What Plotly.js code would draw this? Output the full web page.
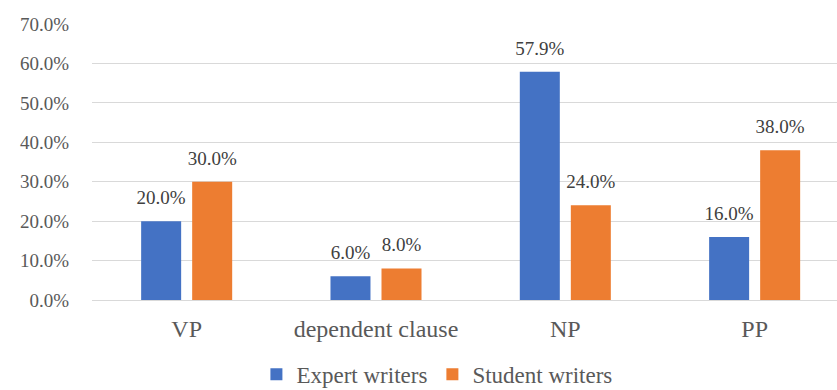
<!DOCTYPE html>
<html>
<head>
<meta charset="utf-8">
<script src="https://cdn.plot.ly/plotly-3.0.1.min.js"></script>
<style>html,body{margin:0;padding:0;background:#fff;}#chart{width:837px;height:390px;}</style>
</head>
<body>
<div id="chart"></div>
<script>
const categories = ["VP", "dependent clause", "NP", "PP"];
const expertWriters = [0.20, 0.06, 0.579, 0.16];
const studentWriters = [0.30, 0.08, 0.24, 0.38];
const seriesNames = ["Expert writers", "Student writers"];
const tickValues = [0, 0.1, 0.2, 0.3, 0.4, 0.5, 0.6, 0.7];

const SERIF = "Liberation Serif";
const colors = ["#4472C4", "#ED7D31"];
const seriesData = [expertWriters, studentWriters];

const traces = [];
seriesData.forEach((vals, i) => {
  traces.push({type: "bar", name: seriesNames[i], x: categories, y: vals,
    marker: {color: colors[i]}, offsetgroup: "g" + i, alignmentgroup: "a",
    hoverinfo: "none"});
});
seriesData.forEach((vals, i) => {
  traces.push({type: "scatter", mode: "markers+text", x: categories, y: vals,
    offsetgroup: "g" + i, alignmentgroup: "a", showlegend: false,
    marker: {size: 18, opacity: 0, color: colors[i]},
    text: vals.map(v => (v * 100).toFixed(1) + "%"), textposition: "top center",
    textfont: {family: SERIF, size: 19, color: "#404040"}, cliponaxis: false, hoverinfo: "none"});
});

const layout = {
  width: 837, height: 390,
  margin: {l: 92, r: 0, t: 24, b: 90},
  paper_bgcolor: "#ffffff", plot_bgcolor: "#ffffff",
  barmode: "group", bargap: 0.461, bargroupgap: 0.216,
  scattermode: "group", scattergap: 0.461,
  font: {family: SERIF, size: 19, color: "#595959"},
  showlegend: true,
  legend: {orientation: "h", xref: "container", x: 0.522, xanchor: "center", yref: "container", y: 0.04, yanchor: "middle",
           font: {family: SERIF, size: 23, color: "#595959"}, itemwidth: 30, traceorder: "normal"},
  xaxis: {type: "category", range: [-0.5, 3.435], showgrid: false, zeroline: false, showline: false,
          ticks: "", ticklabelstandoff: 12, tickfont: {family: SERIF, size: 24, color: "#595959"}},
  yaxis: {range: [0, 0.7], tickvals: tickValues, tickformat: ".1%",
          showgrid: true, gridcolor: "#d9d9d9", gridwidth: 1.3,
          zeroline: true, zerolinecolor: "#d9d9d9", zerolinewidth: 1.3,
          showline: false, ticks: "", ticklabelstandoff: 22,
          tickfont: {family: SERIF, size: 19, color: "#595959"}}
};

Plotly.newPlot("chart", traces, layout, {displayModeBar: false});
</script>
</body>
</html>
